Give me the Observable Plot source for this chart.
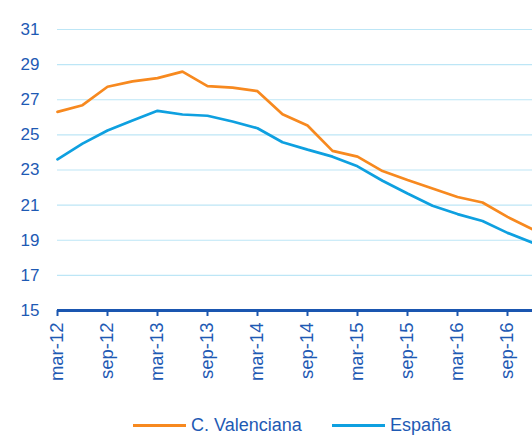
<!DOCTYPE html>
<html>
<head>
<meta charset="utf-8">
<script src="https://cdn.jsdelivr.net/npm/d3@7"></script>
<script src="https://cdn.jsdelivr.net/npm/@observablehq/plot@0.6"></script>
<style>
  html, body { margin: 0; padding: 0; background: #fff; }
  #chart { width: 532px; height: 437px; position: relative; overflow: hidden; font-family: "Liberation Sans", Arial, sans-serif; }
  #legend { position: absolute; left: 0; top: 415px; width: 532px; font-size: 18px; color: #1E5AB4; line-height: 20px; }
  .item { position: absolute; top: 0; display: flex; align-items: center; height: 20px; }
  .sw { display: inline-block; width: 53px; height: 3px; margin-right: 5px; }
</style>
</head>
<body>
<div id="chart"><div id="legend"></div></div>
<script>
const quarters = ["mar-12","jun-12","sep-12","dic-12","mar-13","jun-13","sep-13","dic-13","mar-14","jun-14","sep-14","dic-14","mar-15","jun-15","sep-15","dic-15","mar-16","jun-16","sep-16","dic-16"];
const valenciana = [26.31,26.69,27.74,28.05,28.23,28.60,27.78,27.69,27.49,26.18,25.53,24.09,23.76,22.94,22.43,21.95,21.46,21.15,20.33,19.63];
const espana = [23.61,24.50,25.25,25.82,26.37,26.16,26.09,25.76,25.38,24.58,24.16,23.76,23.21,22.39,21.66,20.96,20.49,20.10,19.42,18.86];
const seriesNames = ["C. Valenciana", "España"];
const seriesColors = ["#F7891F", "#0EA0E0"];
const yTicks = [15,17,19,21,23,25,27,29,31];
const xTickIdx = [0,2,4,6,8,10,12,14,16,18];

const textColor = "#1E5AB4";
const data = [];
quarters.forEach((q,i) => {
  data.push({i, q, v: valenciana[i], s: seriesNames[0]});
  data.push({i, q, v: espana[i], s: seriesNames[1]});
});

const chart = Plot.plot({
  width: 532,
  height: 390,
  marginLeft: 57,
  marginRight: 0,
  marginTop: 29,
  marginBottom: 80,
  style: {fontFamily: "'Liberation Sans', Arial, sans-serif", fontSize: "17px", color: textColor, background: "#fff"},
  x: {type: "linear", domain: [0, 19]},
  y: {domain: [15, 31]},
  color: {domain: seriesNames, range: seriesColors},
  marks: [
    Plot.ruleY(yTicks.filter(d => d > 15), {stroke: "#BDE6F6", strokeWidth: 1.2}),
    Plot.axisY({ticks: yTicks, tickSize: 0, tickPadding: 18, fontSize: 17, fill: textColor, label: null}),
    Plot.line(data, {x: "i", y: "v", z: "s", stroke: "s", strokeWidth: 2.7, strokeLinejoin: "miter"}),
    Plot.ruleY([15], {stroke: "#1A56B0", strokeWidth: 3}),
    Plot.axisX({ticks: xTickIdx, tickFormat: i => quarters[i], tickRotate: -90, tickSize: 6, tickPadding: 6, stroke: "#1A56B0", strokeWidth: 2, fontSize: 18.5, fill: textColor, label: null})
  ]
});
document.getElementById("chart").insertBefore(chart, document.getElementById("legend"));

const legend = document.getElementById("legend");
const lefts = [133, 332];
seriesNames.forEach((n, k) => {
  const it = document.createElement("div");
  it.className = "item";
  it.style.left = lefts[k] + "px";
  const sw = document.createElement("span");
  sw.className = "sw";
  sw.style.background = seriesColors[k];
  it.appendChild(sw);
  const t = document.createElement("span");
  t.textContent = n;
  it.appendChild(t);
  legend.appendChild(it);
});
</script>
</body>
</html>
